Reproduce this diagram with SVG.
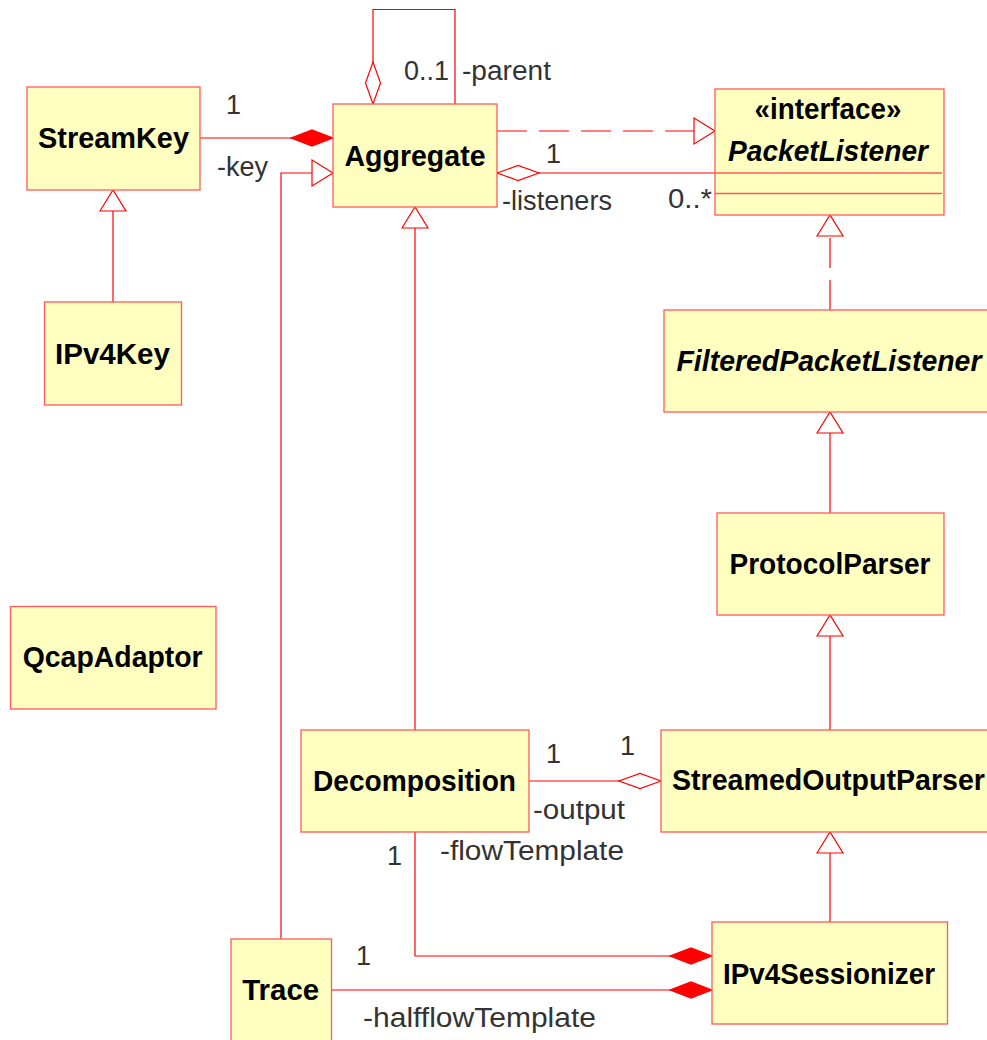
<svg xmlns="http://www.w3.org/2000/svg" width="987" height="1040" viewBox="0 0 987 1040">
  <style>
    .box { fill: #ffffc0; stroke: #ff5a5a; stroke-width: 1.3; }
    .sep { stroke: #ff5a5a; stroke-width: 1.3; fill: none; }
    .name { font-family: "Liberation Sans", Arial, sans-serif; font-weight: bold; font-size: 29.5px; fill: #000; text-anchor: middle; }
    .abstract { font-style: italic; }
    .lbl { font-family: "Liberation Sans", Arial, sans-serif; font-size: 27px; fill: #333; }
    .edge { fill: none; stroke: #ff0000; stroke-width: 1.2; }
    .dash { stroke-dasharray: 30 12; }
    .head-open { fill: #fff; stroke: #ff0000; stroke-width: 1.2; stroke-dasharray: none; }
    .head-solid { fill: #ff0000; stroke: #ff0000; stroke-width: 1.2; }
  </style>
  <defs>
    <!-- generalization / realization: hollow triangle at the target -->
    <marker id="tri" markerUnits="userSpaceOnUse" viewBox="-1 -15 24 30" refX="21" refY="0" markerWidth="24" markerHeight="30" orient="auto" overflow="visible">
      <path class="head-open" d="M0,-13 L21,0 L0,13 Z"/>
    </marker>
    <!-- aggregation: hollow diamond at the whole -->
    <marker id="agg" markerUnits="userSpaceOnUse" viewBox="-1 -9 44 18" refX="0" refY="0" markerWidth="44" markerHeight="18" orient="auto" overflow="visible">
      <path class="head-open" d="M0,0 L21,-7.5 L42,0 L21,7.5 Z"/>
    </marker>
    <!-- composition: filled diamond at the whole -->
    <marker id="comp" markerUnits="userSpaceOnUse" viewBox="-1 -9 44 18" refX="0" refY="0" markerWidth="44" markerHeight="18" orient="auto" overflow="visible">
      <path class="head-solid" d="M0,0 L21,-8 L42,0 L21,8 Z"/>
    </marker>
  </defs>

  <rect width="987" height="1040" fill="#fff"/>

  <!-- connectors -->
  <g id="connectors">
    <!-- Aggregate -parent self association -->
    <path class="edge" d="M373,104 V9.5 H455 V104" marker-start="url(#agg)"/>
    <!-- StreamKey composed in Aggregate -->
    <path class="edge" d="M333,138 H200" marker-start="url(#comp)"/>
    <!-- IPv4Key extends StreamKey -->
    <path class="edge" d="M113,302 V190" marker-end="url(#tri)"/>
    <!-- Trace extends Aggregate -->
    <path class="edge" d="M281,939 V173 H333" marker-end="url(#tri)"/>
    <!-- Decomposition extends Aggregate -->
    <path class="edge" d="M415,730 V207" marker-end="url(#tri)"/>
    <!-- Aggregate implements PacketListener -->
    <path class="edge dash" d="M497,131 H715" marker-end="url(#tri)"/>
    <!-- Aggregate -listeners -->
    <path class="edge" d="M497,173 H716" marker-start="url(#agg)"/>
    <!-- FilteredPacketListener implements PacketListener -->
    <path class="edge dash" d="M830,310 V215" marker-end="url(#tri)"/>
    <!-- ProtocolParser extends FilteredPacketListener -->
    <path class="edge" d="M830,513 V412" marker-end="url(#tri)"/>
    <!-- StreamedOutputParser extends ProtocolParser -->
    <path class="edge" d="M830,730 V615" marker-end="url(#tri)"/>
    <!-- IPv4Sessionizer extends StreamedOutputParser -->
    <path class="edge" d="M830,922 V832" marker-end="url(#tri)"/>
    <!-- Decomposition -output -->
    <path class="edge" d="M661,781 H529" marker-start="url(#agg)"/>
    <!-- Decomposition -flowTemplate -->
    <path class="edge" d="M712,956 H415 V832" marker-start="url(#comp)"/>
    <!-- Trace -halfflowTemplate -->
    <path class="edge" d="M712,990 H332" marker-start="url(#comp)"/>
  </g>

  <!-- connector labels -->
  <g id="labels">
    <text class="lbl" x="226" y="114">1</text>
    <text class="lbl" x="217" y="176" textLength="51" lengthAdjust="spacingAndGlyphs">-key</text>
    <text class="lbl" x="404" y="80" textLength="45" lengthAdjust="spacingAndGlyphs">0..1</text>
    <text class="lbl" x="462" y="80" textLength="89" lengthAdjust="spacingAndGlyphs">-parent</text>
    <text class="lbl" x="546" y="163">1</text>
    <text class="lbl" x="502" y="210" textLength="110" lengthAdjust="spacingAndGlyphs">-listeners</text>
    <text class="lbl" x="668" y="208" textLength="44" lengthAdjust="spacingAndGlyphs">0..*</text>
    <text class="lbl" x="546" y="763">1</text>
    <text class="lbl" x="620" y="755">1</text>
    <text class="lbl" x="533" y="819" textLength="92" lengthAdjust="spacingAndGlyphs">-output</text>
    <text class="lbl" x="387" y="865">1</text>
    <text class="lbl" x="440" y="860" textLength="184" lengthAdjust="spacingAndGlyphs">-flowTemplate</text>
    <text class="lbl" x="356" y="965">1</text>
    <text class="lbl" x="363" y="1027" textLength="233" lengthAdjust="spacingAndGlyphs">-halfflowTemplate</text>
  </g>

  <!-- classes -->
  <g id="StreamKey">
    <rect class="box" x="27" y="87" width="173" height="103"/>
    <text class="name" x="113.5" y="148" textLength="151" lengthAdjust="spacingAndGlyphs">StreamKey</text>
  </g>
  <g id="Aggregate">
    <rect class="box" x="333" y="104" width="164" height="103"/>
    <text class="name" x="415" y="166" textLength="141" lengthAdjust="spacingAndGlyphs">Aggregate</text>
  </g>
  <g id="PacketListener">
    <rect class="box" x="715" y="89" width="229" height="126"/>
    <line class="sep" x1="715" y1="173" x2="942" y2="173"/>
    <line class="sep" x1="715" y1="193.5" x2="942" y2="193.5"/>
    <text class="name" x="828" y="119" textLength="147" lengthAdjust="spacingAndGlyphs">«interface»</text>
    <text class="name abstract" x="828" y="161" textLength="200" lengthAdjust="spacingAndGlyphs">PacketListener</text>
  </g>
  <g id="IPv4Key">
    <rect class="box" x="44.5" y="302" width="137" height="103"/>
    <text class="name" x="112.5" y="363.5" textLength="115" lengthAdjust="spacingAndGlyphs">IPv4Key</text>
  </g>
  <g id="FilteredPacketListener">
    <rect class="box" x="664" y="310" width="340" height="102"/>
    <text class="name abstract" x="829" y="371" textLength="305" lengthAdjust="spacingAndGlyphs">FilteredPacketListener</text>
  </g>
  <g id="ProtocolParser">
    <rect class="box" x="717" y="513" width="227" height="102"/>
    <text class="name" x="830" y="574" textLength="201" lengthAdjust="spacingAndGlyphs">ProtocolParser</text>
  </g>
  <g id="QcapAdaptor">
    <rect class="box" x="10.5" y="606.5" width="205.5" height="102.5"/>
    <text class="name" x="112.7" y="667" textLength="180" lengthAdjust="spacingAndGlyphs">QcapAdaptor</text>
  </g>
  <g id="Decomposition">
    <rect class="box" x="301" y="730" width="228" height="102"/>
    <text class="name" x="414.5" y="791" textLength="203" lengthAdjust="spacingAndGlyphs">Decomposition</text>
  </g>
  <g id="StreamedOutputParser">
    <rect class="box" x="661" y="730" width="340" height="102"/>
    <text class="name" x="828.5" y="790" textLength="313" lengthAdjust="spacingAndGlyphs">StreamedOutputParser</text>
  </g>
  <g id="IPv4Sessionizer">
    <rect class="box" x="712" y="922" width="235.5" height="102"/>
    <text class="name" x="829" y="983.5" textLength="212" lengthAdjust="spacingAndGlyphs">IPv4Sessionizer</text>
  </g>
  <g id="Trace">
    <rect class="box" x="231" y="939" width="100.5" height="110"/>
    <text class="name" x="280.7" y="1000" textLength="77" lengthAdjust="spacingAndGlyphs">Trace</text>
  </g>
</svg>
